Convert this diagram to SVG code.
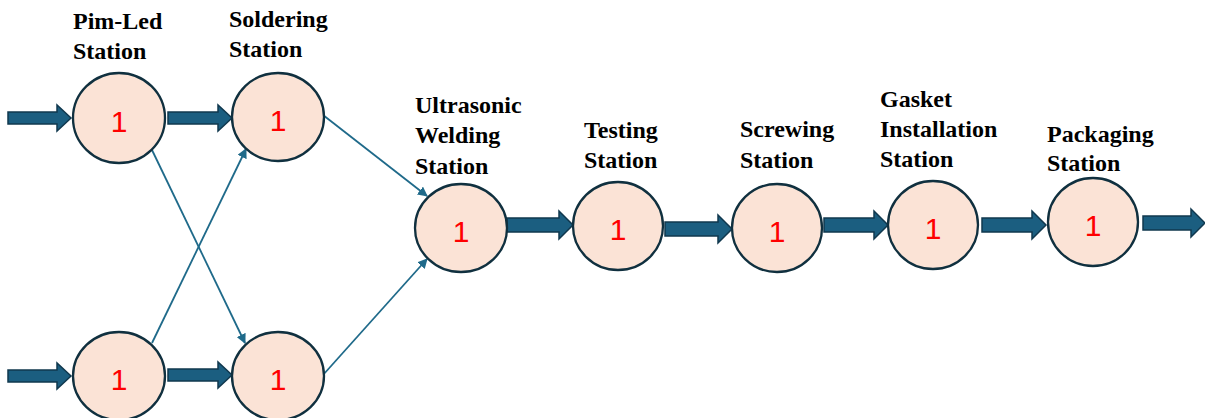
<svg xmlns="http://www.w3.org/2000/svg" width="1205" height="418" viewBox="0 0 1205 418">
<defs>
<style>
.node ellipse{fill:#FBE3D6;stroke:#10303F;stroke-width:2.3}
.num{font-family:"Liberation Sans",Arial,sans-serif;font-size:30px;fill:#FF0000;text-anchor:middle}
.lbl{font-family:"Liberation Serif","Times New Roman",serif;font-size:24px;font-weight:bold;fill:#000}
.blk{fill:#1B5E80;stroke:#10384E;stroke-width:1.5;stroke-linejoin:miter}
.thin{fill:none;stroke:#1F6A8A;stroke-width:1.8}
</style>
<marker id="ah" viewBox="0 0 10 10" refX="9" refY="5" markerWidth="5.5" markerHeight="5.5" orient="auto" markerUnits="strokeWidth">
<path d="M0,0 L10,5 L0,10 z" fill="#1F6A8A"/>
</marker>
</defs>
<rect width="1205" height="418" fill="#fff"/>
<g id="connectors">
<polygon class="blk" points="8,112 57,112 57,105 71,118 57,131 57,124 8,124"/>
<polygon class="blk" points="8,370 57,370 57,363 71,376 57,389 57,382 8,382"/>
<polygon class="blk" points="168,112 218,112 218,105 232,118 218,131 218,124 168,124"/>
<polygon class="blk" points="168,369 218,369 218,362 232,375 218,388 218,381 168,381"/>
<polygon class="blk" points="507,218 559,218 559,211 573,225 559,239 559,232 507,232"/>
<polygon class="blk" points="665,222 718,222 718,215 732,229 718,243 718,236 665,236"/>
<polygon class="blk" points="824,218 874,218 874,211 888,225 874,239 874,232 824,232"/>
<polygon class="blk" points="982,218 1032,218 1032,211 1046,225 1032,239 1032,232 982,232"/>
<polygon class="blk" points="1143,216 1191,216 1191,209 1205,223 1191,237 1191,230 1143,230"/>
<line class="thin" x1="152" y1="150" x2="245" y2="343" marker-end="url(#ah)"/>
<line class="thin" x1="152" y1="343" x2="246" y2="149" marker-end="url(#ah)"/>
<line class="thin" x1="323" y1="115" x2="427" y2="196" marker-end="url(#ah)"/>
<line class="thin" x1="323" y1="375" x2="427" y2="259" marker-end="url(#ah)"/>
</g>
<g id="pimled-top" class="node">
<ellipse cx="119" cy="118" rx="46" ry="45"/>
<text class="num" x="119" y="132">1</text>
<text class="lbl" x="73" y="29">Pim-Led</text>
<text class="lbl" x="73" y="59">Station</text>
</g>
<g id="pimled-bottom" class="node">
<ellipse cx="119" cy="376" rx="46" ry="44"/>
<text class="num" x="119" y="390">1</text>
</g>
<g id="soldering-top" class="node">
<ellipse cx="278" cy="117" rx="46" ry="44"/>
<text class="num" x="278" y="131">1</text>
<text class="lbl" x="229" y="27">Soldering</text>
<text class="lbl" x="229" y="57">Station</text>
</g>
<g id="soldering-bottom" class="node">
<ellipse cx="278" cy="376" rx="46" ry="44"/>
<text class="num" x="278" y="390">1</text>
</g>
<g id="ultrasonic" class="node">
<ellipse cx="461" cy="228" rx="46" ry="44"/>
<text class="num" x="461" y="242">1</text>
<text class="lbl" x="415" y="113">Ultrasonic</text>
<text class="lbl" x="415" y="143">Welding</text>
<text class="lbl" x="415" y="174">Station</text>
</g>
<g id="testing" class="node">
<ellipse cx="618" cy="226" rx="45" ry="44"/>
<text class="num" x="618" y="240">1</text>
<text class="lbl" x="584" y="138">Testing</text>
<text class="lbl" x="584" y="168">Station</text>
</g>
<g id="screwing" class="node">
<ellipse cx="777" cy="228" rx="45" ry="44"/>
<text class="num" x="777" y="242">1</text>
<text class="lbl" x="740" y="137">Screwing</text>
<text class="lbl" x="740" y="168">Station</text>
</g>
<g id="gasket" class="node">
<ellipse cx="933" cy="225" rx="45" ry="44"/>
<text class="num" x="933" y="239">1</text>
<text class="lbl" x="880" y="107">Gasket</text>
<text class="lbl" x="880" y="137">Installation</text>
<text class="lbl" x="880" y="167">Station</text>
</g>
<g id="packaging" class="node">
<ellipse cx="1093" cy="222" rx="45" ry="44"/>
<text class="num" x="1093" y="236">1</text>
<text class="lbl" x="1047" y="142">Packaging</text>
<text class="lbl" x="1047" y="171">Station</text>
</g>
</svg>
